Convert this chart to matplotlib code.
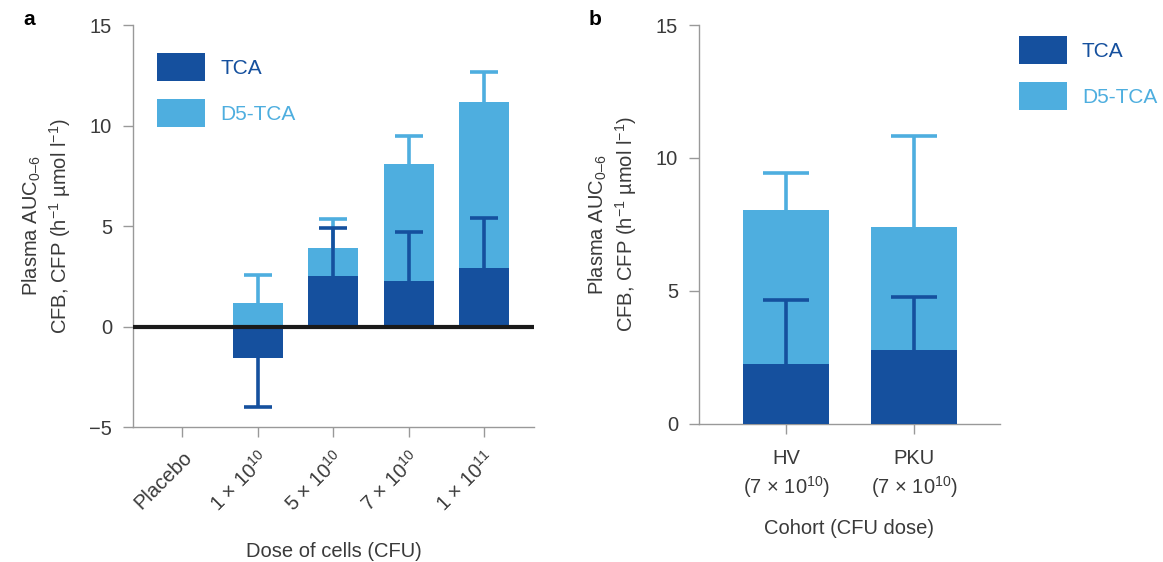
import numpy as np
import matplotlib
matplotlib.use('Agg')
import matplotlib.pyplot as plt

plt.rcParams['font.family'] = ['Liberation Sans', 'DejaVu Sans']
plt.rcParams['mathtext.fontset'] = 'custom'
plt.rcParams['mathtext.rm'] = 'Liberation Sans'
plt.rcParams['mathtext.it'] = 'Liberation Sans:italic'
plt.rcParams['mathtext.bf'] = 'Liberation Sans:bold'

# --- dati pannello a (dose) ---
dose_labels = ['Placebo', '1 × 10$^{10}$', '5 × 10$^{10}$', '7 × 10$^{10}$', '1 × 10$^{11}$']
tca_a = [0.0, -1.55, 2.5, 2.24, 2.89]
tca_err_a = [0.0, 2.44, 2.4, 2.44, 2.49]
d5_a = [0.0, 1.15, 3.93, 8.07, 11.16]
d5_err_a = [0.0, 1.4, 1.4, 1.4, 1.5]

# --- dati pannello b (coorte) ---
cohort_labels = ['HV\n(7 × 10$^{10}$)', 'PKU\n(7 × 10$^{10}$)']
tca_b = [2.25, 2.78]
tca_err_b = [2.4, 1.98]
d5_b = [8.06, 7.39]
d5_err_b = [1.39, 3.45]

DARK = '#15509E'
LIGHT = '#4EAEDF'
GREY = '#999999'
TXT = '#3a3a3a'
FS = 14.5

ylabel = 'Plasma AUC$_{0\u20136}$\nCFB, CFP (h$^{-1}$ µmol l$^{-1}$)'

fig = plt.figure(figsize=(11.63, 5.62), dpi=100)
ax_a = fig.add_axes([0.1144, 0.2402, 0.3448, 0.7153])
ax_b = fig.add_axes([0.601, 0.2456, 0.2588, 0.7099])


def error_lines(ax, x, val, err, color, cap):
    # solo il lato nella direzione del valore, con cappello in cima
    m = err > 0
    tip = np.where(val[m] < 0, val[m] - err[m], val[m] + err[m])
    ax.vlines(x[m], val[m], tip, color=color, lw=2.6, zorder=5)
    ax.hlines(tip, x[m] - cap / 2, x[m] + cap / 2, color=color, lw=2.6, zorder=5)


def draw_panel(ax, tca, tca_err, d5, d5_err, width, cap):
    x = np.arange(len(tca))
    tca = np.array(tca)
    d5 = np.array(d5)
    ax.bar(x, d5, width=width, color=LIGHT, zorder=2, label='D5-TCA')
    ax.bar(x, tca, width=width, color=DARK, zorder=3, label='TCA')
    error_lines(ax, x, d5, np.array(d5_err), LIGHT, cap)
    error_lines(ax, x, tca, np.array(tca_err), DARK, cap)
    for s in ['top', 'right']:
        ax.spines[s].set_visible(False)
    for s in ['left', 'bottom']:
        ax.spines[s].set_color(GREY)
        ax.spines[s].set_linewidth(1)
    ax.tick_params(colors=GREY, labelcolor=TXT, labelsize=FS, length=7, width=1, pad=8)
    ax.set_ylabel(ylabel, fontsize=FS, color=TXT, labelpad=12)


def add_legend(ax, anchor):
    h, l = ax.get_legend_handles_labels()
    leg = ax.legend(h[::-1], l[::-1], loc='upper left', bbox_to_anchor=anchor,
                    frameon=False, fontsize=15, handlelength=2.3, handleheight=1.7,
                    handletextpad=0.72, labelspacing=0.84, borderpad=0, borderaxespad=0)
    for t, c in zip(leg.get_texts(), [DARK, LIGHT]):
        t.set_color(c)


# pannello a
draw_panel(ax_a, tca_a, tca_err_a, d5_a, d5_err_a, 0.66, 0.37)
ax_a.axhline(0, color='#1a1a1a', lw=3, zorder=6)
ax_a.set_xlim(-0.65, 4.66)
ax_a.set_ylim(-5, 15)
ax_a.set_yticks([-5, 0, 5, 10, 15])
ax_a.set_yticklabels(['\u22125', '0', '5', '10', '15'])
ax_a.set_xticks(range(len(dose_labels)))
ax_a.set_xticklabels(dose_labels, rotation=45, ha='right', va='top', rotation_mode='anchor')
ax_a.set_xlabel('Dose of cells (CFU)', fontsize=FS, color=TXT, labelpad=19)
add_legend(ax_a, (0.06, 0.93))

# pannello b
draw_panel(ax_b, tca_b, tca_err_b, d5_b, d5_err_b, 0.67, 0.36)
ax_b.set_xlim(-0.68, 1.67)
ax_b.set_ylim(0, 15)
ax_b.set_yticks([0, 5, 10, 15])
ax_b.set_xticks(range(len(cohort_labels)))
ax_b.set_xticklabels(cohort_labels, linespacing=1.3)
ax_b.tick_params(axis='x', pad=11)
ax_b.set_xlabel('Cohort (CFU dose)', fontsize=FS, color=TXT, labelpad=14)
add_legend(ax_b, (1.063, 0.972))

fig.text(0.02, 0.965, 'a', fontsize=15, fontweight='bold', va='center')
fig.text(0.506, 0.965, 'b', fontsize=15, fontweight='bold', va='center')

plt.savefig('out.png', dpi=100)
